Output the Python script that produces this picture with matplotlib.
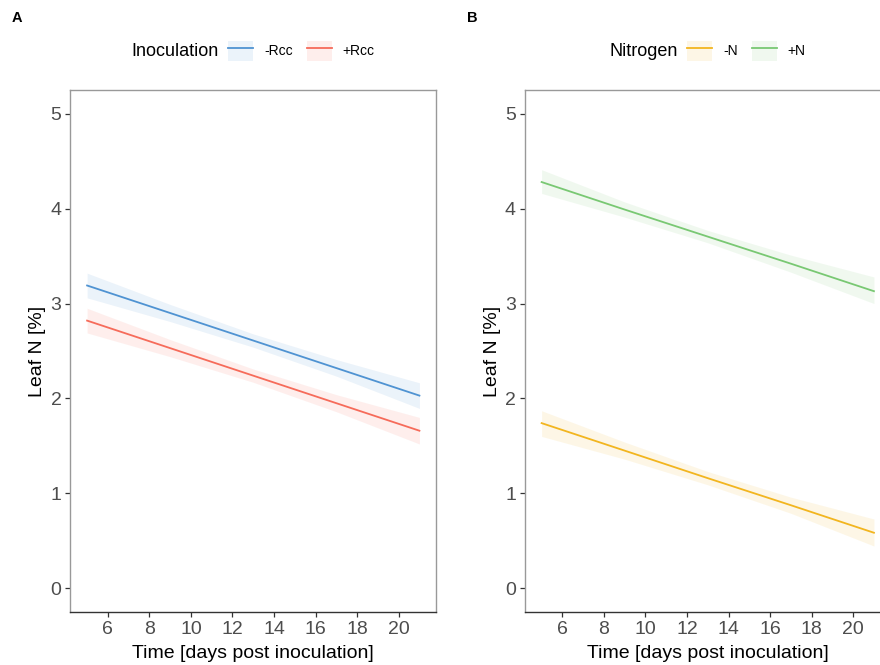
import matplotlib
matplotlib.use("Agg")
import matplotlib.pyplot as plt
from matplotlib.patches import Patch
from matplotlib.lines import Line2D

plt.rcParams["font.family"] = ["Liberation Sans", "DejaVu Sans"]

# fitted lines with confidence bands
days = [5, 9, 13, 17, 21]

minus_rcc = [3.19, 2.90, 2.61, 2.32, 2.03]
minus_rcc_lo = [3.06, 2.81, 2.54, 2.235, 1.895]
minus_rcc_hi = [3.32, 2.99, 2.68, 2.41, 2.165]

plus_rcc = [2.82, 2.53, 2.24, 1.95, 1.66]
plus_rcc_lo = [2.69, 2.44, 2.17, 1.86, 1.52]
plus_rcc_hi = [2.95, 2.62, 2.31, 2.04, 1.80]

minus_n = [1.74, 1.45, 1.16, 0.875, 0.585]
minus_n_lo = [1.60, 1.36, 1.09, 0.79, 0.445]
minus_n_hi = [1.87, 1.54, 1.23, 0.96, 0.73]

plus_n = [4.28, 3.99, 3.705, 3.42, 3.13]
plus_n_lo = [4.16, 3.91, 3.64, 3.33, 3.00]
plus_n_hi = [4.41, 4.07, 3.77, 3.51, 3.28]

xticks = [6, 8, 10, 12, 14, 16, 18, 20]
yticks = [0, 1, 2, 3, 4, 5]

BLUE = "#4f93d2"
RED = "#f66b5a"
YELLOW = "#f2b51f"
GREEN = "#79c873"
FILL_ALPHA = 0.11


def style_axes(ax):
    ax.set_xlim(4.2, 21.8)
    ax.set_ylim(-0.25, 5.25)
    ax.set_xticks(xticks)
    ax.set_yticks(yticks)
    for side in ["top", "right", "left"]:
        ax.spines[side].set_color("#999999")
        ax.spines[side].set_linewidth(1.0)
    ax.spines["bottom"].set_color("#333333")
    ax.spines["bottom"].set_linewidth(1.0)
    ax.tick_params(axis="both", length=3.5, width=0.9, color="#333333",
                   labelcolor="#4d4d4d", labelsize=14, pad=3)
    ax.set_xlabel("Time [days post inoculation]", fontsize=14, color="black", labelpad=5)
    ax.set_ylabel("Leaf N [%]", fontsize=14, color="black", labelpad=3)


def draw_group(ax, y, lo, hi, color):
    ax.fill_between(days, lo, hi, color=color, alpha=FILL_ALPHA, linewidth=0)
    ax.plot(days, y, color=color, linewidth=1.3)


def add_legend(fig, title, labels, colors, title_x, keys_x, y):
    fig.text(title_x, y, title, fontsize=13, ha="right", va="center")
    handles = [(Patch(facecolor=c, alpha=FILL_ALPHA, linewidth=0),
                Line2D([0], [0], color=c, linewidth=1.3)) for c in colors]
    fig.legend(handles, labels, ncol=len(labels), frameon=False, fontsize=10,
               loc="center left", bbox_to_anchor=(keys_x, y),
               handlelength=1.8, handleheight=1.8, handletextpad=0.8,
               columnspacing=1.0, borderpad=0, borderaxespad=0)


fig = plt.figure(figsize=(8.8, 6.65), dpi=100)
ax_a = fig.add_axes([0.0801, 0.0797, 0.4154, 0.785])
ax_b = fig.add_axes([0.5966, 0.0797, 0.4154, 0.785])

draw_group(ax_a, minus_rcc, minus_rcc_lo, minus_rcc_hi, BLUE)
draw_group(ax_a, plus_rcc, plus_rcc_lo, plus_rcc_hi, RED)
draw_group(ax_b, minus_n, minus_n_lo, minus_n_hi, YELLOW)
draw_group(ax_b, plus_n, plus_n_lo, plus_n_hi, GREEN)

style_axes(ax_a)
style_axes(ax_b)

legend_y = 1 - 51 / 665
add_legend(fig, "Inoculation", ["-Rcc", "+Rcc"], [BLUE, RED], 219 / 880, 228 / 880, legend_y)
add_legend(fig, "Nitrogen", ["-N", "+N"], [YELLOW, GREEN], 678 / 880, 687 / 880, legend_y)

fig.text(12 / 880, 1 - 18 / 665, "A", fontsize=10.5, fontweight="bold", va="center")
fig.text(467 / 880, 1 - 18 / 665, "B", fontsize=10.5, fontweight="bold", va="center")

fig.savefig("out.png", dpi=100)
